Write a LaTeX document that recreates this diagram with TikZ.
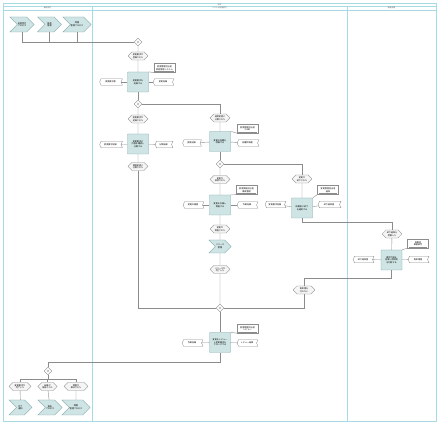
\documentclass[tikz,border=0pt]{standalone}
\usepackage{fontspec}
\setmainfont{Noto Sans CJK JP}
\usetikzlibrary{shapes.geometric,shapes.symbols,calc}
\definecolor{lane}{HTML}{A6DBE4}
\definecolor{fnfill}{HTML}{CFE4E4}
\definecolor{fnline}{HTML}{7FA8AC}
\definecolor{gr}{HTML}{8C8C8C}
\tikzset{
 tinyfont/.style={font=\fontsize{2.1}{2.5}\selectfont},
 fn/.style={tinyfont, draw=fnline, fill=fnfill, minimum width=21pt, minimum height=20pt, inner sep=0.5pt, align=center, rounded corners=0.6pt, line width=0.4pt},
 ev/.style={tinyfont, signal, signal to=east and west, draw=gr, fill=gray!8, minimum width=20pt, minimum height=8pt, inner sep=0.4pt, align=center, line width=0.35pt},
 pif/.style={tinyfont, signal, signal to=east, signal from=west, draw=fnline, fill=fnfill, minimum width=23pt, minimum height=15pt, inner sep=0.4pt, align=center, line width=0.35pt},
 xor/.style={diamond, draw=gr, fill=white, minimum width=8pt, minimum height=8pt, inner sep=0pt, line width=0.35pt,
   path picture={\draw[gr,line width=0.3pt] ([shift={(-1.2pt,-1.2pt)}]path picture bounding box.center) -- ++(2.4pt,2.4pt) ([shift={(-1.2pt,1.2pt)}]path picture bounding box.center) -- ++(2.4pt,-2.4pt);}},
 infotxt/.style={tinyfont, minimum height=6pt, inner sep=0.3pt, align=center},
 infoline/.style={draw=gr, line width=0.35pt},
 ann/.style={tinyfont, draw=gr, fill=white, minimum width=21pt, minimum height=9pt, inner sep=0.5pt, align=center, line width=0.35pt},
 conn/.style={draw=gr, line width=0.4pt},
 lanel/.style={draw=lane, line width=0.5pt},
 hdr/.style={font=\fontsize{1.8}{2}\selectfont, text=gray!80!black, inner sep=0pt},
}
\newcommand\infonode[4]{%
 \node[infotxt, minimum width=#3] (#1) at (#2) {#4};
 \draw[infoline] ([xshift=1.2pt]#1.north west) to[bend right=45] ([xshift=1.2pt]#1.south west) -- ([xshift=1.2pt]#1.south east) to[bend left=45] ([xshift=1.2pt]#1.north east) -- cycle;}
\newcommand\annnode[3]{%
 \node[ann] (#1) at (#2) {#3};
 \draw[gr, line width=0.6pt] ([xshift=1.5pt,yshift=1pt]#1.south west) -- ([xshift=-1.5pt,yshift=1pt]#1.south east);}
\begin{document}
\begin{tikzpicture}[x=1pt,y=-1pt]
\fill[white] (0,0) rectangle (440,427);
\useasboundingbox (0,0) rectangle (440,427);
% lanes
\draw[lanel] (3,3) rectangle (436,421);
\draw[lanel] (3,6.5) -- (436,6.5);
\draw[lanel] (3,10) -- (436,10);
\draw[lanel] (92,6.5) -- (92,421);
\draw[lanel] (347,6.5) -- (347,421);
\node[hdr] (ttl) at (219.5,4.8) {全体};
\node[hdr] (l1) at (47.5,8.3) {業務部門};
\node[hdr] (l2) at (219.5,8.3) {システム管理部門};
\node[hdr] (l3) at (391.5,8.3) {関連部署};

\coordinate (k1) at (0,222);
\coordinate (k3) at (0,278);
\coordinate (k4) at (0,362);
\coordinate (k5) at (0,379);

% left lane top
\node[pif, minimum width=24pt] (c1) at (22,24.5) {申請受付\\プロセス};
\node[pif, minimum width=24pt] (c2) at (49.5,24.5) {障害\\管理};
\node[pif, minimum width=24pt] (c3) at (77,24.5) {問題\\管理プロセス};

% column A
\node[xor] (x1) at (138,42) {};
\node[ev] (e1) at (138,56) {変更要求が\\登録された};
\node[fn] (f1) at (138,82) {変更要求を\\記録する};
\annnode{a1}{164.5,68}{変更管理担当者\\変更管理システム}
\infonode{i1L}{110.5,82}{21pt}{変更要求書}
\infonode{i1R}{163,82}{19pt}{変更記録}
\node[xor] (x2) at (138,104) {};
\node[ev] (e2) at (138,119) {変更要求が\\記録された};
\node[fn] (f2) at (138,144) {変更要求の\\内容を確認し\\分類する};
\infonode{i2L}{110.5,144.5}{21pt}{変更要求記録};
\infonode{i2R}{163.5,144.5}{16pt}{分類結果};
\node[ev] (e3) at (138,166.5) {標準変更に\\分類された};

% column B
\node[ev] (e4) at (220,118) {通常変更に\\分類された};
\node[fn] (f3) at (220,141.5) {変更の影響を\\評価する};
\annnode{a3}{247.5,128.5}{変更管理担当者\\（CAB）}
\infonode{i3L}{191.5,143}{17pt}{変更記録}
\infonode{i3R}{247.5,143}{20pt}{影響評価書}
\node[xor] (x4) at (220,164) {};
\node[ev] (e5) at (220,179.5) {変更が\\承認された};
\node[fn] (f4) at (220,205) {変更を計画し\\実施する};
\annnode{a4}{246.5,190}{変更実施担当者\\構成管理}
\infonode{i4L}{193,205}{19pt}{変更計画書}
\infonode{i4R}{247,205}{19pt}{作業記録}
\node[ev] (e6) at (220,229) {変更が\\実施された};
\node[pif, minimum width=22pt, minimum height=13pt] (p1) at (220,246.5) {リリース\\管理};
\node[ev] (e7) at (220,269.5) {リリースが\\完了した};
\node[xor] (x5) at (220,308) {};
\node[fn] (f5) at (220,342.5) {変更をレビュー\\し変更要求を\\クローズする};
\annnode{a5}{247.5,328.5}{変更管理担当者\\レビュー}
\infonode{i5L}{192,343}{19pt}{作業記録}
\infonode{i5R}{247,343}{19pt}{レビュー結果}

% column C
\node[ev] (e8) at (302,179) {変更が\\却下された};
\node[fn] (f6) at (302,208) {依頼者に却下\\を通知する};
\annnode{a6}{328,190}{変更管理担当者\\通知}
\infonode{i6L}{275,204.5}{19pt}{変更要求記録}
\infonode{i6R}{329,204.5}{21pt}{却下通知書}

% column D (right lane)
\node[ev] (e9) at (392,234) {却下通知を\\受領した};
\node[fn] (f7) at (391.5,260) {要求内容を\\見直し再申請\\を判断する};
\annnode{a7}{418,243.5}{依頼者\\業務部門}
\infonode{i7L}{363,259.5}{19pt}{却下通知書}
\infonode{i7R}{418,259.5}{19pt}{再申請書}
\node[ev, minimum width=22pt] (e10) at (304,290) {再申請を\\行わない};

% bottom left lane
\node[xor] (x6) at (48,371) {};
\node[ev, minimum width=22pt] (e11) at (20,386.5) {変更要求が\\完了した};
\node[ev, minimum width=19pt] (e12) at (47.5,386.5) {結果が\\報告された};
\node[ev, minimum width=24pt] (e13) at (76,386.5) {問題が\\解決された};
\node[pif] (c4) at (20.5,407.5) {完了\\通知};
\node[pif, minimum width=24pt] (c5) at (50,407.5) {報告\\プロセス};
\node[pif, minimum width=24pt] (c6) at (76,407.5) {問題\\管理プロセス};

% connectors
\draw[conn] (c1.south) |- (x1.west);
\draw[conn] (c2.south) |- (x1.west);
\draw[conn] (c3.south) |- (x1.west);
\draw[conn] (x1) -- (e1); \draw[conn] (e1) -- (f1); \draw[conn] (f1) -- (x2);
\draw[conn] (x2) -- (e2); \draw[conn] (e2) -- (f2); \draw[conn] (f2) -- (e3);
\draw[conn] (i1L) -- (f1); \draw[conn] (f1) -- (i1R); \draw[conn] (f1.north east) -- (a1.south west);
\draw[conn] (i2L) -- (f2); \draw[conn] (f2) -- (i2R);
\draw[conn] (x2.east) -| (e4.north);
\draw[conn] (e4) -- (f3); \draw[conn] (f3) -- (x4); \draw[conn] (x4) -- (e5); \draw[conn] (e5) -- (f4);
\draw[conn] (f4) -- (e6); \draw[conn] (e6) -- (p1); \draw[conn] (p1) -- (e7); \draw[conn] (e7) -- (x5); \draw[conn] (x5) -- (f5);
\draw[conn] (i3L) -- (f3); \draw[conn] (f3) -- (i3R); \draw[conn] (f3.north east) -- (a3.south west);
\draw[conn] (i4L) -- (f4); \draw[conn] (f4) -- (i4R); \draw[conn] (f4.north east) -- (a4.south west);
\draw[conn] (i5L) -- (f5); \draw[conn] (f5) -- (i5R); \draw[conn] (f5.north east) -- (a5.south west);
\draw[conn] (x4.east) -| (e8.north);
\draw[conn] (e8) -- (f6);
\draw[conn] (i6L) -- (f6); \draw[conn] (f6) -- (i6R); \draw[conn] (f6.north east) -- (a6.south west);
\draw[conn] (f6.south) -- (f6.south |- k1) -| (e9.north);
\draw[conn] (e9) -- (f7);
\draw[conn] (i7L) -- (f7); \draw[conn] (f7) -- (i7R); \draw[conn] (f7.north east) -- (a7.south west);
\draw[conn] (f7.south) -- (f7.south |- k3) -| (e10.north);
\draw[conn] (e10.south) |- (x5.east);
\draw[conn] (e3.south) |- (x5.west);
\draw[conn] (f5.south) -- (f5.south |- k4) -| (x6.north);
\draw[conn] (x6.south) -- (x6.south |- k5);
\draw[conn] (e11.north |- k5) -- (e13.north |- k5);
\draw[conn] (e11.north |- k5) -- (e11.north);
\draw[conn] (e12.north |- k5) -- (e12.north);
\draw[conn] (e13.north |- k5) -- (e13.north);
\draw[conn] (e11) -- (c4); \draw[conn] (e12) -- (c5); \draw[conn] (e13) -- (c6);
\end{tikzpicture}
\end{document}
